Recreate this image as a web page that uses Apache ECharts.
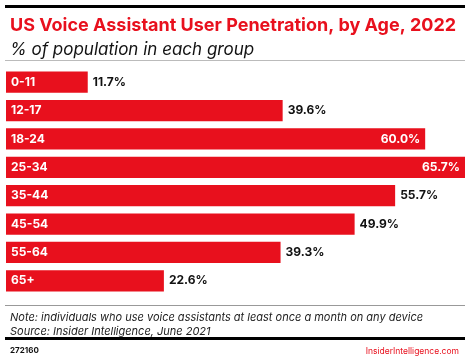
<!DOCTYPE html>
<html><head><meta charset="utf-8">
<script src="https://cdn.jsdelivr.net/npm/echarts@6/dist/echarts.min.js"></script>
<style>html,body{margin:0;padding:0;background:#fff}#c{width:470px;height:357px}</style>
</head><body><div id="c"></div>
<script>
const categories = ['0-11','12-17','18-24','25-34','35-44','45-54','55-64','65+'];
const values = [11.7, 39.6, 60.0, 65.7, 55.7, 49.9, 39.3, 22.6];
const insideThreshold = 58;
const RED = '#e8101d';
const FONT = 'Inter';
const chart = echarts.init(document.getElementById('c'), null, {renderer:'canvas'});
chart.setOption({
  animation:false,
  grid:{left:6, right:5, top:68, bottom:62, containLabel:false},
  xAxis:{type:'value', min:0, max:65.7, show:false},
  yAxis:{type:'category', data:categories, inverse:true, show:false},
  title:[
    {text:'US Voice Assistant User Penetration, by Age, 2022', left:5, top:12,
     textStyle:{color:RED, fontFamily:FONT, fontWeight:'bold', fontSize:18}},
    {text:'% of population in each group', left:5, top:36,
     textStyle:{color:'#111', fontFamily:FONT, fontStyle:'italic', fontWeight:'normal', fontSize:17}},
    {text:'Note: individuals who use voice assistants at least once a month on any device\nSource: Insider Intelligence, June 2021', left:5, top:306,
     textStyle:{color:'#222', fontFamily:FONT, fontStyle:'italic', fontWeight:'normal', fontSize:11, lineHeight:14}},
    {text:'272160', left:5, top:342, textStyle:{color:'#111', fontFamily:FONT, fontWeight:'bold', fontSize:8}},
    {text:'InsiderIntelligence.com', right:6, top:342, textStyle:{color:RED, fontFamily:FONT, fontWeight:'normal', fontSize:8.5}}
  ],
  graphic:[
    {type:'rect', shape:{x:5, y:5, width:460, height:3}, style:{fill:'#000'}},
    {type:'rect', shape:{x:5, y:60, width:460, height:1}, style:{fill:'#bbb'}},
    {type:'rect', shape:{x:5, y:305, width:460, height:1}, style:{fill:'#999'}},
    {type:'rect', shape:{x:5, y:337, width:460, height:3}, style:{fill:'#000'}}
  ],
  series:[
    {type:'bar', data:values, barCategoryGap:'25%', itemStyle:{color:RED},
     label:{show:true, position:'insideLeft', distance:5,
       formatter:p=>categories[p.dataIndex], color:'#fff', fontFamily:FONT, fontWeight:'bold', fontSize:12}},
    {type:'bar', barGap:'-100%', barCategoryGap:'25%', itemStyle:{color:'rgba(0,0,0,0)'},
     label:{show:true, distance:5, position:'right',
       formatter:p=>p.value.toFixed(1)+'%', color:'#111', fontFamily:FONT, fontWeight:'bold', fontSize:12},
     data:values.map(v=>({value:v, label: v>insideThreshold ? {position:'insideRight', color:'#fff'} : {}}))
    }
  ]
});
</script></body></html>
